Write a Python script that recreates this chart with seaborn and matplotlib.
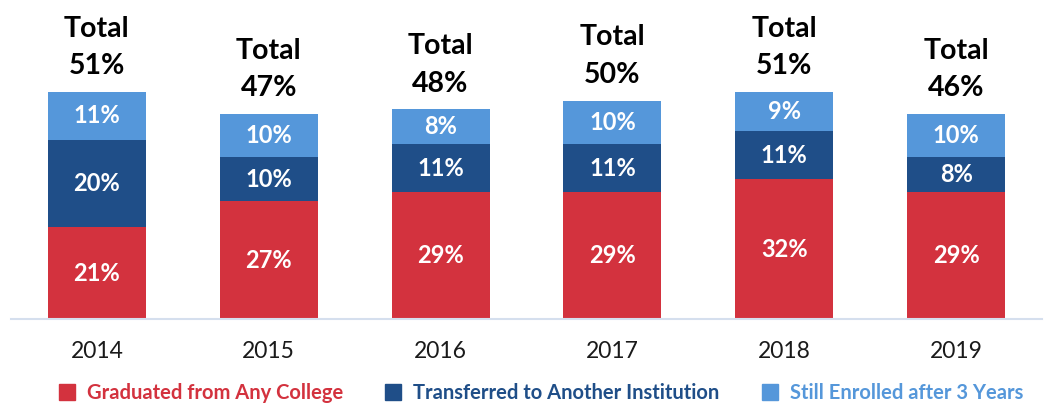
import matplotlib
matplotlib.use("Agg")
import matplotlib.pyplot as plt
from matplotlib.lines import Line2D
import seaborn as sns
import pandas as pd
import numpy as np

years = ["2014", "2015", "2016", "2017", "2018", "2019"]
graduated = [21, 27, 29, 29, 32, 29]
transferred = [20, 10, 11, 11, 11, 8]
still_enrolled = [11, 10, 8, 10, 9, 10]
totals = [51, 47, 48, 50, 51, 46]
series_names = ["Graduated from Any College", "Transferred to Another Institution",
                "Still Enrolled after 3 Years"]

RED = "#D3323E"
DARK = "#1F4E88"
LIGHT = "#5597DA"

sns.set_theme(style="white")
plt.rcParams["font.family"] = ["Lato", "DejaVu Sans"]

df = pd.DataFrame({"year": years, "g": graduated, "t": transferred, "s": still_enrolled})
df["gt"] = df["g"] + df["t"]
df["gts"] = df["gt"] + df["s"]

fig = plt.figure(figsize=(10.49, 4.05), dpi=100)
ax = fig.add_axes([11 / 1049, 86 / 405, 1031 / 1049, 319 / 405])

w = 0.57
sns.barplot(data=df, x="year", y="gts", color=LIGHT, saturation=1, width=w, ax=ax, linewidth=0)
sns.barplot(data=df, x="year", y="gt", color=DARK, saturation=1, width=w, ax=ax, linewidth=0)
sns.barplot(data=df, x="year", y="g", color=RED, saturation=1, width=w, ax=ax, linewidth=0)

ax.set_xlim(-0.5, 5.5)
ax.set_ylim(0, 73)
ax.set_xlabel("")
ax.set_ylabel("")
ax.set_yticks([])
for sp in ["top", "left", "right"]:
    ax.spines[sp].set_visible(False)
ax.spines["bottom"].set_color("#D5DFEE")
ax.spines["bottom"].set_linewidth(1.5)
ax.tick_params(axis="x", length=0, pad=16, labelsize=16.5, labelcolor="#1a1a1a")

for i in range(len(years)):
    g, t, s = graduated[i], transferred[i], still_enrolled[i]
    for base, val in [(0, g), (g, t), (g + t, s)]:
        ax.text(i, base + val / 2, f"{val}%", ha="center", va="center",
                color="white", fontsize=17, fontweight="bold")
    ax.annotate(f"Total\n{totals[i]}%", xy=(i, df["gts"][i]), xytext=(0, 9),
                textcoords="offset points", ha="center", va="bottom",
                fontsize=20.5, fontweight="bold", color="black", linespacing=1.55,
                annotation_clip=False)

handles = [Line2D([], [], marker="s", linestyle="none", markersize=11,
                  markerfacecolor=c, markeredgecolor=c) for c in [RED, DARK, LIGHT]]
leg = fig.legend(handles, series_names, loc="center", bbox_to_anchor=(0.51, 12 / 405),
                 ncol=3, frameon=False, handletextpad=0.0, columnspacing=1.5,
                 prop={"weight": "bold", "size": 14.5})
for txt, c in zip(leg.get_texts(), [RED, DARK, LIGHT]):
    txt.set_color(c)

fig.savefig("out.png", dpi=100)
